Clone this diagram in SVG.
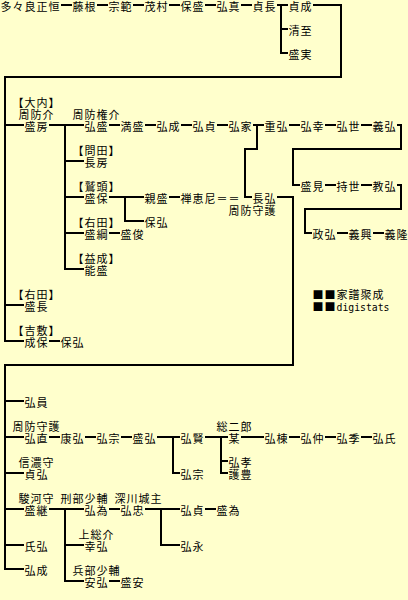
<svg xmlns="http://www.w3.org/2000/svg" width="408" height="600" viewBox="0 0 408 600">
<style>
text{font-family:"Noto Sans CJK JP","Noto Sans CJK SC",sans-serif;font-size:11px;letter-spacing:1px;fill:#000}
.c path{fill:none;stroke:#000;stroke-width:2;stroke-linejoin:miter;stroke-linecap:butt}
.lat{font-family:"DejaVu Sans Mono","Liberation Mono",monospace;letter-spacing:0}
</style>
<rect width="408" height="600" fill="#ffffcc"/>
<g class="c" id="connectors">
<path d="M61,5H72M97,5H108M133,5H144M169,5H180M205,5H216M241,5H252"/>
<path d="M277,5H288M281,5V53H288M281,29H288"/>
<path d="M313,5H341V77H5V341H24M5,125H24M5,305H24M49,341H60"/>
<path d="M49,125H84M65,125V269H84M65,161H84M65,197H84M65,233H84"/>
<path d="M109,125H120M145,125H156M181,125H192M217,125H228"/>
<path d="M253,125H264M257,125V149H245V197H252"/>
<path d="M289,125H300M325,125H336M361,125H372"/>
<path d="M397,125H401V149H293V185H300M325,185H336M361,185H372"/>
<path d="M397,185H401V209H305V233H312M337,233H348M373,233H384"/>
<path d="M109,197H144M125,197V221H144M169,197H180M109,233H120"/>
<path d="M277,197H293V365H5V569H24M5,401H24M5,437H24M5,473H24M5,509H24M5,545H24"/>
<path d="M49,437H60M85,437H96M121,437H132M157,437H180M173,437V473H180"/>
<path d="M205,437H228M221,437V473H228M221,461H228M241,437H264M289,437H300M325,437H336M361,437H372"/>
<path d="M49,509H84M65,509V581H84M65,545H84M109,509H120M145,509H180M161,509V545H180M205,509H216M109,581H120"/>
</g>
<g id="n-masatsune"><text x="0.5" y="10.5">多々良正恒</text></g>
<g id="n-fujine"><text x="72.5" y="10.5">藤根</text></g>
<g id="n-munenori"><text x="108.5" y="10.5">宗範</text></g>
<g id="n-shigemura"><text x="144.5" y="10.5">茂村</text></g>
<g id="n-yasumori"><text x="180.5" y="10.5">保盛</text></g>
<g id="n-hiromasa"><text x="216.5" y="10.5">弘真</text></g>
<g id="n-sadanaga"><text x="252.5" y="10.5">貞長</text></g>
<g id="n-sadashige"><text x="288.5" y="10.5">貞成</text></g>
<g id="n-kiyoshi"><text x="288.5" y="34.5">清至</text></g>
<g id="n-morizane"><text x="288.5" y="58.5">盛実</text></g>
<g id="n-morifusa"><text x="12.5" y="106.5">【大内】</text><text x="18.5" y="118.5">周防介</text><text x="24.5" y="130.5">盛房</text></g>
<g id="n-hiromori"><text x="72.5" y="118.5">周防権介</text><text x="84.5" y="130.5">弘盛</text></g>
<g id="n-mitsumori"><text x="120.5" y="130.5">満盛</text></g>
<g id="n-hiroshige"><text x="156.5" y="130.5">弘成</text></g>
<g id="n-hirosada"><text x="192.5" y="130.5">弘貞</text></g>
<g id="n-hiroie"><text x="228.5" y="130.5">弘家</text></g>
<g id="n-shigehiro"><text x="264.5" y="130.5">重弘</text></g>
<g id="n-hiroyuki"><text x="300.5" y="130.5">弘幸</text></g>
<g id="n-hiroyo"><text x="336.5" y="130.5">弘世</text></g>
<g id="n-yoshihiro"><text x="372.5" y="130.5">義弘</text></g>
<g id="n-nagafusa"><text x="72.5" y="154.5">【問田】</text><text x="84.5" y="166.5">長房</text></g>
<g id="n-morimi"><text x="300.5" y="190.5">盛見</text></g>
<g id="n-mochiyo"><text x="336.5" y="190.5">持世</text></g>
<g id="n-norihiro"><text x="372.5" y="190.5">教弘</text></g>
<g id="n-moriyasu"><text x="72.5" y="190.5">【鷲頭】</text><text x="84.5" y="202.5">盛保</text></g>
<g id="n-chikamori"><text x="144.5" y="202.5">親盛</text></g>
<g id="n-zenkeini"><text x="180.5" y="202.5">禅恵尼</text><text x="216.5" y="202.5">＝＝</text></g>
<g id="n-nagahiro"><text x="252.5" y="202.5">長弘</text><text x="228.5" y="214.5">周防守護</text></g>
<g id="n-yasuhiro1"><text x="144.5" y="226.5">保弘</text></g>
<g id="n-moritsuna"><text x="72.5" y="226.5">【右田】</text><text x="84.5" y="238.5">盛綱</text></g>
<g id="n-moritoshi"><text x="120.5" y="238.5">盛俊</text></g>
<g id="n-masahiro"><text x="312.5" y="238.5">政弘</text></g>
<g id="n-yoshioki"><text x="348.5" y="238.5">義興</text></g>
<g id="n-yoshitaka"><text x="384.5" y="238.5">義隆</text></g>
<g id="n-yoshimori"><text x="72.5" y="262.5">【益成】</text><text x="84.5" y="274.5">能盛</text></g>
<g id="n-torinaga"><text x="12.5" y="298.5">【右田】</text><text x="24.5" y="310.5">盛長</text></g>
<g id="credit"><text x="312.5" y="298.5">■■家譜聚成</text><text x="312.5" y="310.5">■■</text><text class="lat" x="336.5" y="310.5" textLength="53" lengthAdjust="spacingAndGlyphs">digistats</text></g>
<g id="n-shigeyasu"><text x="12.5" y="334.5">【吉敷】</text><text x="24.5" y="346.5">成保</text></g>
<g id="n-yasuhiro2"><text x="60.5" y="346.5">保弘</text></g>
<g id="n-hirokazu"><text x="24.5" y="406.5">弘員</text></g>
<g id="n-hironao"><text x="12.5" y="430.5">周防守護</text><text x="24.5" y="442.5">弘直</text></g>
<g id="n-yasuhiro3"><text x="60.5" y="442.5">康弘</text></g>
<g id="n-hiromune1"><text x="96.5" y="442.5">弘宗</text></g>
<g id="n-morihiro"><text x="132.5" y="442.5">盛弘</text></g>
<g id="n-hirokata"><text x="180.5" y="442.5">弘賢</text></g>
<g id="n-bou"><text x="216.5" y="430.5">総二郎</text><text x="228.5" y="442.5">某</text></g>
<g id="n-hiromune2"><text x="264.5" y="442.5">弘棟</text></g>
<g id="n-hironaka"><text x="300.5" y="442.5">弘仲</text></g>
<g id="n-hirosue"><text x="336.5" y="442.5">弘季</text></g>
<g id="n-hirouji"><text x="372.5" y="442.5">弘氏</text></g>
<g id="n-hirotaka"><text x="228.5" y="466.5">弘孝</text></g>
<g id="n-gohou"><text x="228.5" y="478.5">護豊</text></g>
<g id="n-hiromune3"><text x="180.5" y="478.5">弘宗</text></g>
<g id="n-sadahiro"><text x="18.5" y="466.5">信濃守</text><text x="24.5" y="478.5">貞弘</text></g>
<g id="n-moritsugu"><text x="18.5" y="502.5">駿河守</text><text x="24.5" y="514.5">盛継</text></g>
<g id="n-hirotame"><text x="60.5" y="502.5">刑部少輔</text><text x="84.5" y="514.5">弘為</text></g>
<g id="n-hirotada"><text x="114.5" y="502.5">深川城主</text><text x="120.5" y="514.5">弘忠</text></g>
<g id="n-hirosada2"><text x="180.5" y="514.5">弘貞</text></g>
<g id="n-moritame"><text x="216.5" y="514.5">盛為</text></g>
<g id="n-yukihiro"><text x="78.5" y="538.5">上総介</text><text x="84.5" y="550.5">幸弘</text></g>
<g id="n-ujihiro"><text x="24.5" y="550.5">氏弘</text></g>
<g id="n-hironaga"><text x="180.5" y="550.5">弘永</text></g>
<g id="n-hiroshige2"><text x="24.5" y="574.5">弘成</text></g>
<g id="n-yasuhiro4"><text x="72.5" y="574.5">兵部少輔</text><text x="84.5" y="586.5">安弘</text></g>
<g id="n-moriyasu2"><text x="120.5" y="586.5">盛安</text></g>
</svg>
